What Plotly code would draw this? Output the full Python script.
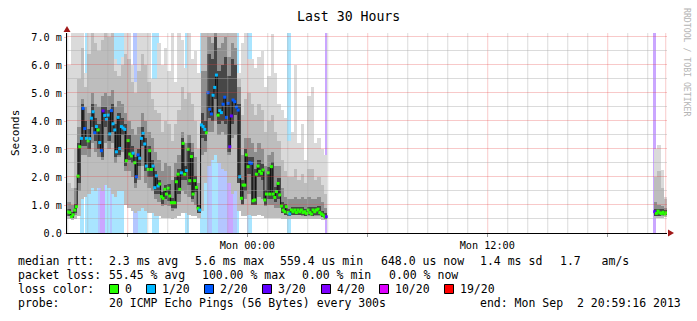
import pandas as pd
import plotly.graph_objects as go

# ---------------- data ----------------
seg1_start = "2013-09-01 15:00:00"   # 5-minute steps
seg2_start = "2013-09-02 20:20:00"

# median rtt per 5-min step (ms)
seg1_median = [
    0.75, 0.73, 0.58, 0.65, 0.82, 0.94, 2.03, 3.08, 3.38, 4.45,
    3.73, 3.38, 3.29, 3.37, 4.10, 4.33, 3.58, 3.80, 3.68, 3.23,
    2.94, 4.36, 4.20, 4.06, 4.21, 3.54, 4.37, 3.90, 3.68, 2.90,
    4.13, 3.02, 3.80, 3.75, 3.70, 2.58, 3.30, 2.82, 2.75, 2.85,
    2.51, 2.01, 2.79, 2.67, 3.38, 3.56, 3.18, 2.39, 2.27, 2.94,
    2.27, 2.39, 1.62, 2.04, 1.68, 1.75, 1.30, 1.24, 1.56, 1.39,
    1.60, 1.32, 1.08, 1.08, 1.08, 1.83, 2.10, 1.56, 2.15, 3.20,
    2.10, 2.23, 2.99, 1.87, 2.73, 1.39, 1.87, 1.63, 0.88, 0.82,
    3.86, 3.80, 3.70, 3.58, 5.01, 4.42, 4.25, 4.92, 5.20, 5.64,
    4.21, 4.37, 4.30, 4.60, 4.85, 4.13, 4.63, 3.08, 4.18, 4.75,
    4.69, 4.50, 4.39, 2.01, 1.24, 1.71, 1.71, 2.79, 2.37, 2.51,
    2.49, 1.15, 1.18, 2.10, 2.39, 2.20, 2.13, 2.25, 1.18, 1.39,
    2.15, 1.39, 2.37, 1.39, 1.27, 1.48, 1.77, 1.36, 0.96, 0.82,
    0.76, 0.94, 0.73, 0.68, 0.82, 0.76, 0.82, 0.73, 0.82, 0.76,
    0.82, 0.73, 0.76, 0.70, 0.82, 0.73, 0.68, 0.82, 0.76, 0.82,
    0.85, 0.73, 0.68, 0.64, 0.58, 0.58,
]
# lost pings (of 20) per step -> median colour
seg1_loss = [
    0, 0, 0, 0, 0, 0, 0, 0, 1, 2,
    2, 1, 0, 1, 1, 1, 2, 1, 0, 1,
    2, 3, 1, 1, 1, 1, 2, 1, 1, 1,
    1, 1, 1, 1, 1, 0, 0, 0, 0, 1,
    0, 2, 2, 1, 1, 1, 1, 1, 0, 0,
    0, 1, 1, 1, 1, 0, 0, 0, 0, 0,
    0, 0, 0, 0, 0, 0, 0, 0, 1, 0,
    0, 1, 0, 0, 0, 0, 0, 0, 0, 1,
    1, 1, 1, 0, 2, 2, 2, 1, 1, 1,
    0, 1, 1, 2, 2, 2, 2, 3, 3, 2,
    2, 2, 2, 1, 0, 0, 0, 0, 0, 2,
    2, 0, 0, 0, 0, 0, 0, 0, 0, 0,
    0, 0, 0, 0, 0, 0, 0, 0, 0, 0,
    0, 0, 0, 1, 0, 0, 0, 0, 0, 0,
    0, 0, 0, 0, 0, 0, 0, 0, 0, 0,
    0, 0, 0, 0, 0, 3,
]
# loss level shown as background band per step
seg1_bgloss = [
    0, 0, 0, 0, 0, 0, 0, 0, 1, 1,
    0, 1, 1, 1, 1, 1, 1, 1, 1, 2,
    3, 3, 3, 1, 1, 1, 2, 1, 1, 1,
    1, 1, 1, 1, 0, 0, 0, 0, 0, 0,
    2, 2, 2, 1, 1, 1, 1, 1, 0, 0,
    0, 1, 1, 1, 1, 0, 0, 0, 0, 0,
    0, 0, 0, 0, 0, 0, 0, 0, 0, 0,
    0, 1, 1, 0, 0, 0, 0, 0, 0, 0,
    1, 1, 1, 1, 2, 2, 2, 1, 1, 1,
    1, 2, 2, 2, 2, 2, 3, 3, 3, 3,
    2, 2, 1, 0, 0, 0, 0, 0, 1, 1,
    1, 0, 0, 0, 0, 0, 0, 0, 0, 0,
    0, 0, 0, 0, 0, 0, 0, 0, 0, 0,
    0, 0, 1, 1, 0, 0, 0, 0, 0, 0,
    0, 0, 0, 0, 0, 0, 0, 0, 0, 0,
    0, 0, 0, 0, 0, 3,
]
# smoke per 10-min bin (ms): min, 25%, 40%, 60%, 75%, 90%, max
seg1_lo = [
    0.50, 0.48, 0.50, 0.60, 1.20, 1.30, 1.40, 1.60, 1.50, 1.60,
    1.50, 1.70, 1.60, 1.40, 1.30, 1.50, 1.50, 1.00, 0.90, 0.80,
    0.70, 0.80, 0.90, 0.80, 0.70, 0.70, 0.60, 0.60, 0.55, 0.55,
    0.55, 0.50, 0.55, 0.60, 0.70, 0.70, 0.65, 0.60, 0.60, 0.55,
    0.80, 1.80, 2.40, 2.60, 2.80, 2.50, 2.30, 2.20, 1.80, 1.40,
    1.50, 0.80, 0.60, 0.60, 0.65, 0.60, 0.60, 0.65, 0.60, 0.55,
    0.55, 0.55, 0.55, 0.55, 0.50, 0.50, 0.50, 0.50, 0.50, 0.50,
    0.50, 0.50, 0.50, 0.50, 0.50, 0.50, 0.48, 0.45,
]
seg1_p25 = [
    0.62, 0.55, 0.65, 1.50, 2.80, 2.80, 2.70, 3.20, 2.90, 2.70,
    2.60, 3.20, 3.00, 3.20, 2.50, 2.70, 2.90, 2.20, 2.20, 2.00,
    1.60, 1.90, 2.40, 1.80, 1.60, 1.50, 1.20, 1.10, 0.95, 1.00,
    0.95, 0.80, 0.85, 1.10, 1.50, 1.40, 1.30, 1.10, 1.00, 0.70,
    2.80, 2.90, 3.60, 3.60, 4.00, 3.50, 3.60, 3.50, 2.80, 3.40,
    3.50, 1.80, 1.00, 1.20, 1.40, 1.00, 1.00, 1.30, 1.20, 0.95,
    1.00, 1.00, 0.90, 0.90, 0.70, 0.65, 0.62, 0.63, 0.63, 0.63,
    0.62, 0.60, 0.62, 0.60, 0.62, 0.62, 0.58, 0.52,
]
seg1_p40 = [
    0.60, 0.55, 0.70, 1.80, 3.10, 3.10, 3.00, 3.80, 3.30, 3.00,
    2.70, 3.80, 3.30, 3.60, 2.70, 2.80, 3.50, 2.40, 2.60, 2.50,
    1.80, 2.40, 3.10, 2.20, 2.00, 2.00, 1.40, 1.40, 1.05, 1.20,
    1.15, 0.90, 0.90, 1.40, 1.90, 1.90, 1.70, 1.20, 1.45, 0.70,
    3.40, 3.30, 4.10, 4.00, 4.80, 3.90, 4.00, 3.90, 2.90, 3.90,
    4.20, 1.80, 1.05, 1.50, 2.10, 1.00, 1.00, 2.00, 1.90, 1.00,
    1.20, 1.20, 1.10, 1.20, 0.70, 0.65, 0.60, 0.65, 0.63, 0.65,
    0.63, 0.60, 0.63, 0.60, 0.65, 0.63, 0.56, 0.50,
]
seg1_p60 = [
    0.85, 0.75, 1.05, 3.20, 4.60, 4.00, 3.70, 4.60, 4.10, 3.90,
    4.50, 4.50, 4.40, 4.60, 3.90, 4.30, 4.10, 3.90, 3.50, 3.10,
    2.70, 3.00, 3.80, 3.40, 3.10, 2.60, 2.20, 1.90, 1.45, 1.70,
    1.75, 1.25, 2.00, 2.30, 3.40, 2.40, 3.20, 2.90, 2.05, 1.00,
    4.30, 4.00, 6.40, 6.20, 7.00, 5.80, 6.00, 6.30, 5.60, 6.20,
    6.00, 4.60, 1.90, 3.00, 2.70, 2.70, 2.30, 2.60, 2.45, 1.55,
    2.35, 2.55, 1.65, 1.95, 1.10, 1.05, 0.85, 0.92, 0.92, 0.92,
    0.92, 0.87, 0.92, 0.92, 0.92, 0.95, 0.78, 0.70,
]
seg1_p75 = [
    1.10, 1.00, 1.60, 3.80, 4.80, 4.50, 4.30, 5.00, 4.60, 4.50,
    4.90, 5.00, 4.90, 5.10, 4.50, 4.70, 4.60, 4.30, 4.00, 3.70,
    3.50, 3.80, 4.30, 4.00, 3.60, 3.40, 2.90, 2.60, 2.20, 2.50,
    2.40, 1.90, 2.50, 2.80, 3.60, 3.20, 3.50, 3.20, 2.70, 1.80,
    5.80, 5.80, 7.00, 6.80, 7.30, 6.60, 6.80, 7.00, 6.30, 6.80,
    6.60, 5.20, 2.80, 3.40, 3.40, 3.20, 2.90, 3.20, 3.00, 2.40,
    2.80, 2.90, 2.40, 2.40, 1.60, 1.30, 1.20, 1.20, 1.30, 1.20,
    1.30, 1.20, 1.30, 1.20, 1.20, 1.30, 1.10, 0.90,
]
seg1_p90 = [
    1.80, 1.60, 3.00, 5.50, 6.60, 5.20, 6.40, 7.30, 6.80, 6.50,
    6.90, 7.30, 7.00, 7.30, 5.80, 5.60, 6.00, 6.40, 6.20, 5.40,
    5.00, 5.80, 6.40, 6.00, 5.40, 4.80, 4.40, 4.30, 3.60, 4.00,
    3.90, 3.30, 3.90, 4.40, 5.20, 4.80, 5.00, 4.60, 4.00, 3.00,
    7.30, 7.30, 7.30, 7.30, 7.30, 7.30, 7.30, 7.30, 7.30, 7.30,
    7.30, 5.50, 4.20, 4.80, 5.00, 4.60, 4.20, 4.60, 4.40, 3.60,
    4.00, 4.20, 3.60, 3.30, 2.60, 2.20, 2.00, 2.00, 2.30, 1.90,
    2.10, 1.80, 2.30, 2.30, 1.90, 2.00, 1.70, 1.40,
]
seg1_hi = [
    6.00, 7.30, 7.30, 7.30, 7.30, 5.70, 7.30, 7.30, 7.30, 7.30,
    7.30, 7.30, 7.30, 7.30, 6.20, 6.00, 6.30, 7.30, 7.30, 6.00,
    5.40, 7.30, 7.30, 7.30, 7.30, 5.50, 5.50, 6.80, 6.00, 6.60,
    5.80, 7.30, 5.40, 7.30, 6.90, 5.90, 7.30, 6.20, 6.50, 5.70,
    7.30, 7.30, 7.30, 7.30, 7.30, 7.30, 7.30, 7.30, 7.30, 7.30,
    7.30, 5.70, 6.80, 7.30, 6.20, 6.20, 5.90, 6.30, 6.50, 5.20,
    5.60, 7.10, 5.70, 4.60, 4.40, 4.10, 3.30, 3.60, 6.00, 3.20,
    3.90, 2.60, 4.90, 5.20, 3.20, 3.40, 3.00, 2.80,
]

seg2_median = [0.76, 0.70, 0.78, 0.72, 0.70, 0.74, 0.68, 0.72]
seg2_loss = [3, 0, 0, 0, 0, 0, 0, 0]
seg2_bgloss = [3, 0, 0, 0, 0, 0, 0, 0]
seg2_lo = [0.55, 0.55, 0.55, 0.58]
seg2_p25 = [0.62, 0.63, 0.62, 0.65]
seg2_p40 = [0.62, 0.62, 0.63, 0.63]
seg2_p60 = [0.85, 0.85, 0.86, 0.82]
seg2_p75 = [1.10, 1.00, 0.95, 0.90]
seg2_p90 = [2.00, 2.20, 1.60, 1.20]
seg2_hi = [3.00, 3.14, 2.25, 1.30]

loss_levels = [0, 1, 2, 3, 4, 10, 19]
loss_labels = ["0", "1/20", "2/20", "3/20", "4/20", "10/20", "19/20"]
loss_colors = ["#26ff00", "#00b8ff", "#0059ff", "#5e00ff", "#7e00ff", "#dd00ff", "#ff0000"]
loss_bg_colors = {1: "#a9e5ff", 2: "#b4c6ff", 3: "#caa6ff", 4: "#d3a6ff"}

y_ticks = [0, 1, 2, 3, 4, 5, 6, 7]
y_tick_text = ["0.0", "1.0 m", "2.0 m", "3.0 m", "4.0 m", "5.0 m", "6.0 m", "7.0 m"]
x_tick_vals = ["2013-09-01 18:00", "2013-09-02 00:00", "2013-09-02 06:00",
               "2013-09-02 12:00", "2013-09-02 18:00"]
x_tick_text = ["", "Mon 00:00", "", "Mon 12:00", ""]
x_start = "2013-09-01 14:59:16"
x_end = "2013-09-02 20:59:16"

# ---------------- geometry ----------------
W, H = 697, 321
PL, PR, PT, PB = 67, 667, 33, 233     # plot area in pixels
PX_PER_MS = 28.0
PX_PER_HOUR = 20.0
Y_TOP = (PB - PT) / PX_PER_MS

def px(xp):
    return (xp - PL) / (PR - PL)

def py(yp):
    return (PB - yp) / (PB - PT)

MONO = "DejaVu Sans Mono"
color_of = dict(zip(loss_levels, loss_colors))

fig = go.Figure()

def add_segment(start, med, loss, bg, lo, p25, p40, p60, p75, p90, hi):
    steps = pd.date_range(start, periods=len(med), freq="5min")
    bins = pd.date_range(start, periods=len(lo), freq="10min")
    # loss background
    bx, by, bc = [], [], []
    for t, b in zip(steps, bg):
        if b:
            bx.append(t); by.append(Y_TOP + 1); bc.append(loss_bg_colors[b])
    if bx:
        fig.add_trace(go.Bar(x=bx, y=by, base=[0] * len(bx), width=300000, offset=0,
                             marker=dict(color=bc, line=dict(width=0)),
                             hoverinfo="skip", showlegend=False))
    # smoke bands, outer (light) to inner (dark)
    bands = ((lo, hi, "#dadada"), (lo, p90, "#bdbdbd"),
             (p25, p75, "#8e8e8e"), (p40, p60, "#474747"))
    for low, high, col in bands:
        fig.add_trace(go.Bar(x=bins, y=[h - l for l, h in zip(low, high)], base=low,
                             width=600000, offset=0,
                             marker=dict(color=col, line=dict(width=0)),
                             hoverinfo="skip", showlegend=False))
    # median
    xs = list(steps) + [steps[-1] + pd.Timedelta(minutes=5)]
    fig.add_trace(go.Scatter(x=xs, y=list(med) + [med[-1]], mode="lines",
                             line=dict(color="#101010", width=1, shape="hv"),
                             hoverinfo="skip", showlegend=False))
    fig.add_trace(go.Scatter(x=steps + pd.Timedelta(seconds=150), y=med, mode="markers",
                             marker=dict(symbol="square", size=3,
                                         color=[color_of[v] for v in loss],
                                         line=dict(width=0)),
                             hoverinfo="skip", showlegend=False))

add_segment(seg1_start, seg1_median, seg1_loss, seg1_bgloss, seg1_lo, seg1_p25,
            seg1_p40, seg1_p60, seg1_p75, seg1_p90, seg1_hi)
add_segment(seg2_start, seg2_median, seg2_loss, seg2_bgloss, seg2_lo, seg2_p25,
            seg2_p40, seg2_p60, seg2_p75, seg2_p90, seg2_hi)

# ---------------- grid (drawn above the data, like rrdtool) ----------------
shapes = []
MINOR = "rgba(170,170,170,0.42)"
MAJOR = "rgba(230,60,60,0.28)"
half_px_t = pd.Timedelta(seconds=3600 * 0.5 / PX_PER_HOUR)   # keep 1-px lines crisp
half_px_v = 0.5 / PX_PER_MS
for t in pd.date_range("2013-09-01 15:00", "2013-09-02 20:00", freq="h"):
    col = MAJOR if t.hour % 6 == 0 else MINOR
    tt = t + half_px_t
    shapes.append(dict(type="line", xref="x", yref="paper", x0=tt, x1=tt, y0=0, y1=1,
                       line=dict(color=col, width=1), layer="above"))
shapes.append(dict(type="line", xref="x", yref="paper", x0="2013-09-02 20:55:30",
                   x1="2013-09-02 20:55:30", y0=0, y1=1,
                   line=dict(color=MAJOR, width=1), layer="above"))
for k in range(1, 15):
    v = k * 0.5 + half_px_v
    col = MAJOR if k % 2 == 0 else MINOR
    shapes.append(dict(type="line", xref="paper", yref="y", x0=0, x1=1, y0=v, y1=v,
                       line=dict(color=col, width=1), layer="above"))

# axis arrows
ARROW = "#a01818"
shapes.append(dict(type="path", xref="paper", yref="paper",
                   path=f"M {px(668)},{py(229.5)} L {px(674)},{py(233)} L {px(668)},{py(236.5)} Z",
                   fillcolor=ARROW, line=dict(color=ARROW, width=0), layer="above"))
shapes.append(dict(type="path", xref="paper", yref="paper",
                   path=f"M {px(63.5)},{py(32)} L {px(67)},{py(26)} L {px(70.5)},{py(32)} Z",
                   fillcolor=ARROW, line=dict(color=ARROW, width=0), layer="above"))

# ---------------- text ----------------
ann = []
def text(s, x, y, size=11.5, color="#000000", anchor="left", angle=0):
    ann.append(dict(text=s.replace(" ", "\u00a0"), x=px(x), y=py(y), xref="paper", yref="paper",
                    xanchor=anchor, yanchor="middle", showarrow=False, textangle=angle,
                    font=dict(family=MONO, size=size, color=color)))

text("Last 30 Hours", 348, 16, size=13.2, anchor="center")
text("Seconds", 15, 133, size=11, anchor="center", angle=-90)
text("RRDTOOL / TOBI OETIKER", 687, 62, size=8.2, color="#b4b4b4", anchor="center", angle=90)

row1 = [("median rtt:", 16), ("2.3 ms avg", 106.7), ("5.6 ms max", 193.3),
        ("559.4 us min", 278.3), ("648.0 us now", 379.3), ("1.4 ms sd", 478.3),
        ("1.7   am/s", 558.3)]
row2 = [("packet loss:", 16), ("55.45 % avg", 106.7), ("100.00 % max", 200),
        ("0.00 % min", 300), ("0.00 % now", 386.7)]
row4 = [("probe:", 16), ("20 ICMP Echo Pings (56 Bytes) every 300s", 106.7),
        ("end: Mon Sep  2 20:59:16 2013", 478)]
for s, x in row1:
    text(s, x, 261)
for s, x in row2:
    text(s, x, 275)
for s, x in row4:
    text(s, x, 303)
text("loss color:", 16, 289)
box_x = [109, 146, 204, 262, 321, 379, 444]
for bx, lab, col in zip(box_x, loss_labels, loss_colors):
    shapes.append(dict(type="rect", xref="paper", yref="paper",
                       x0=px(bx + 0.5), x1=px(bx + 9.5), y0=py(293.5), y1=py(284.5),
                       fillcolor=col, line=dict(color="#000000", width=1)))
    text(lab, bx + 14, 289)

fig.update_layout(
    width=W, height=H,
    margin=dict(l=PL, r=W - PR, t=PT, b=H - PB, pad=0),
    paper_bgcolor="#ffffff", plot_bgcolor="#ffffff",
    barmode="overlay", bargap=0, showlegend=False,
    shapes=shapes, annotations=ann,
    font=dict(family=MONO, color="#000000"),
    xaxis=dict(type="date", range=[x_start, x_end], showgrid=False, zeroline=False,
               showline=True, linecolor="#000000", linewidth=1,
               tickvals=x_tick_vals, ticktext=x_tick_text,
               ticks="outside", ticklen=3, tickcolor="#999999",
               tickfont=dict(family=MONO, size=10.2, color="#000000"),
               fixedrange=True),
    yaxis=dict(range=[0, Y_TOP], showgrid=False, zeroline=False,
               showline=True, linecolor="#000000", linewidth=1,
               tickvals=y_ticks, ticktext=y_tick_text,
               ticks="outside", ticklen=2, tickcolor="rgba(230,60,60,0.35)",
               tickfont=dict(family=MONO, size=10.2, color="#000000"),
               fixedrange=True),
)

fig.write_html("out.html", config={"displayModeBar": False})
